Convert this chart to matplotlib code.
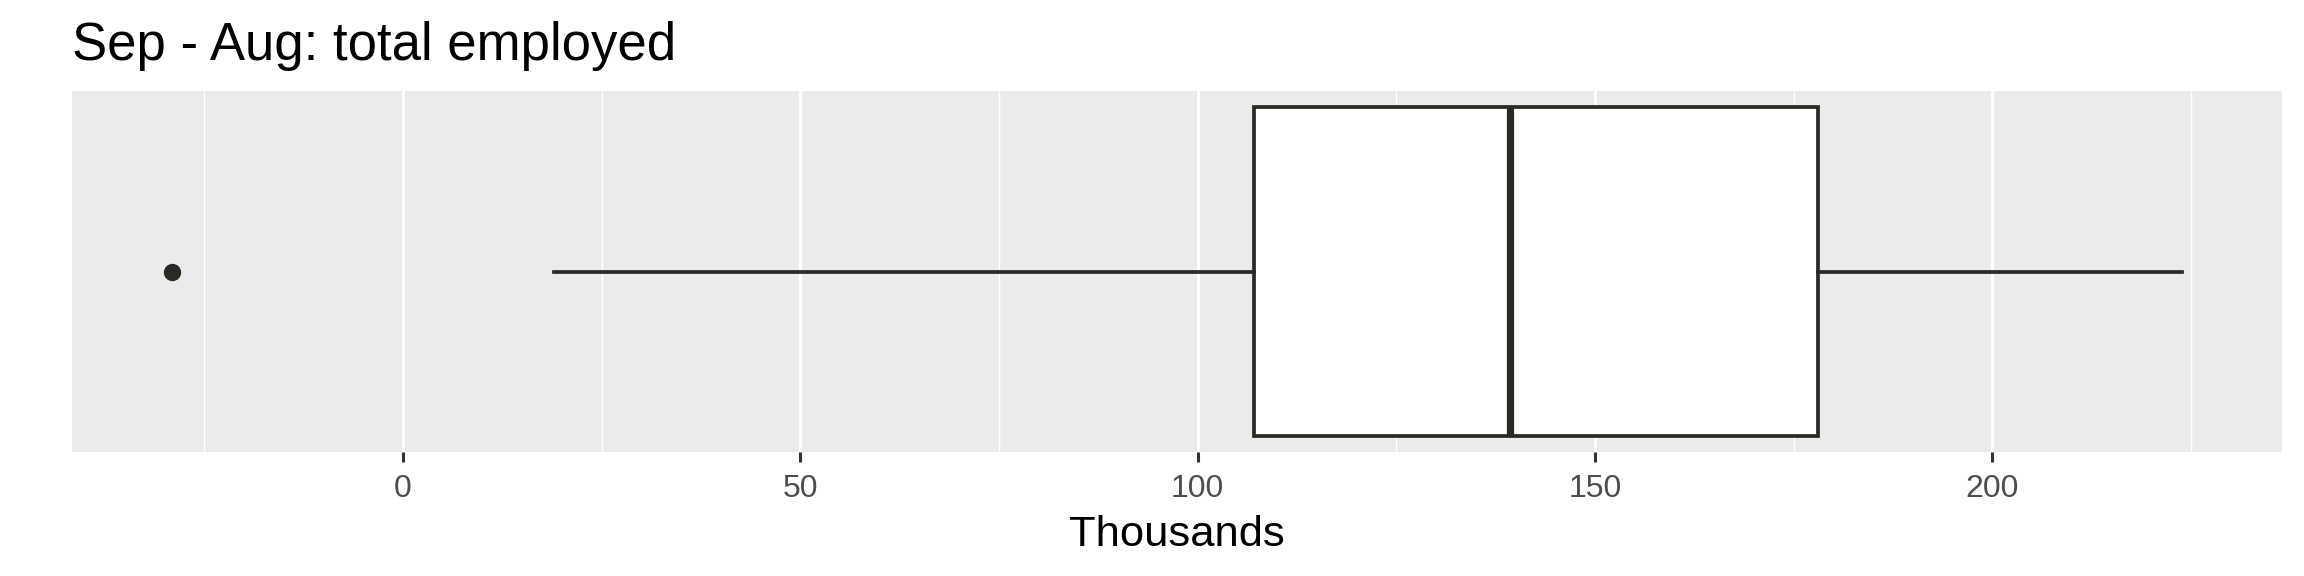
import matplotlib
matplotlib.use("Agg")
import matplotlib.pyplot as plt

# ---- data (thousands) ----
title = "Sep - Aug: total employed"
xlabel = "Thousands"
q1 = 107.1
median = 139.3
q3 = 178.1
whisker_low = 19.0
whisker_high = 223.8
outliers = [-29.0]
major_ticks = [0, 50, 100, 150, 200]
minor_ticks = [-25, 25, 75, 125, 175, 225]

plt.rcParams['font.family'] = ['Liberation Sans', 'DejaVu Sans']

W, H, DPI = 2304, 576, 100
fig = plt.figure(figsize=(W / DPI, H / DPI), dpi=DPI)
pl, pr, pt, pb = 72, 2282, 91, 452
ax = fig.add_axes([pl / W, 1 - pb / H, (pr - pl) / W, (pb - pt) / H])
ax.set_facecolor('#EBEBEB')
for s in ax.spines.values():
    s.set_visible(False)

stats = [dict(med=median, q1=q1, q3=q3, whislo=whisker_low, whishi=whisker_high,
              fliers=outliers)]
ink = '#2a2a25'
ax.bxp(stats, positions=[0], widths=0.9, orientation='horizontal',
       showcaps=False, patch_artist=True,
       boxprops=dict(facecolor='white', edgecolor=ink, linewidth=2.7),
       medianprops=dict(color=ink, linewidth=5.2, solid_capstyle='butt'),
       whiskerprops=dict(color=ink, linewidth=2.7),
       flierprops=dict(marker='o', markerfacecolor=ink, markeredgecolor=ink,
                       markersize=12.5, markeredgewidth=0),
       zorder=3)

lo = min(min(outliers), whisker_low)
hi = max(whisker_high, max(outliers))
span = hi - lo
ax.set_xlim(lo - 0.05 * span, hi + 0.05 * span)
ax.set_ylim(-0.495, 0.495)

ax.set_xticks(major_ticks)
ax.set_xticklabels([str(t) for t in major_ticks])
ax.set_xticks(minor_ticks, minor=True)
ax.set_yticks([])
ax.grid(True, which='major', axis='x', color='white', linewidth=2.1, zorder=0)
ax.grid(True, which='minor', axis='x', color='white', linewidth=1.05, zorder=0)
ax.set_axisbelow(True)
ax.tick_params(axis='x', which='major', length=7.5, width=2.2, color='#333333',
               labelsize=23, labelcolor='#4D4D4D', pad=8)
ax.tick_params(axis='x', which='minor', length=0)

fig.text(pl / W, 1 - 60 / H, title, fontsize=38, color='black',
         ha='left', va='baseline')
fig.text((pl + pr) / 2 / W, 1 - 546 / H, xlabel, fontsize=31.3, color='black',
         ha='center', va='baseline')

fig.savefig('out.png', dpi=DPI, facecolor='white')
